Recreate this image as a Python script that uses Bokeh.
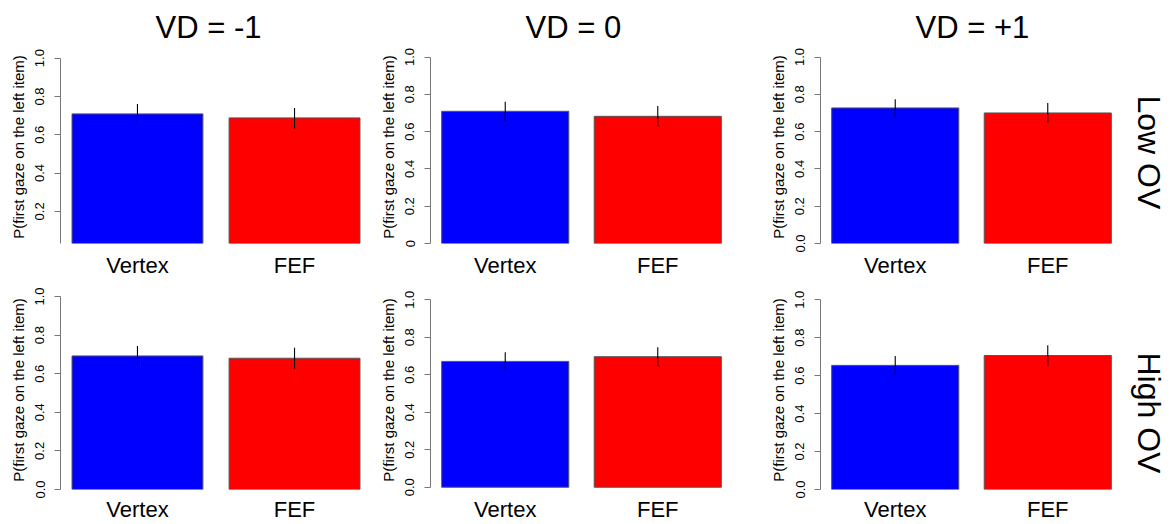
from bokeh.plotting import figure
from bokeh.models import FactorRange, Range1d, FixedTicker, PrintfTickFormatter, Title
from bokeh.layouts import gridplot
from bokeh.embed import file_html
from bokeh.resources import INLINE

# ---------------- data ----------------
groups = ["Vertex", "FEF"]
colors = ["#0000ff", "#ff0000"]
vd_titles = ["VD = -1", "VD = 0", "VD = +1"]
ov_labels = ["Low OV", "High OV"]
y_label = "P(first gaze on the left item)"
y_ticks = [0.0, 0.2, 0.4, 0.6, 0.8, 1.0]

# Low OV row (VD = -1, 0, +1): means and error-bar limits
low_mean = [[0.709, 0.688], [0.709, 0.682], [0.727, 0.700]]
low_lo = [[0.663, 0.632], [0.656, 0.627], [0.677, 0.647]]
low_hi = [[0.761, 0.740], [0.760, 0.737], [0.774, 0.753]]

# High OV row
high_mean = [[0.692, 0.680], [0.671, 0.696], [0.654, 0.706]]
high_lo = [[0.642, 0.625], [0.622, 0.644], [0.606, 0.650]]
high_hi = [[0.743, 0.734], [0.720, 0.747], [0.704, 0.760]]

FONT = "Liberation Sans"

# layout geometry (pixels)
col_width = [376, 390, 406]
col_border_left = [60, 52, 52]
col_border_right = [5, 34, 50]
row_height = [280, 244]
row_border_top = [50, 10]
row_border_bottom = [35, 33]
y_ranges = [
    [(0.032, 1.040), (0.0, 1.035), (0.0, 1.035)],
    [(0.0, 1.031), (-0.012, 1.049), (0.0, 1.0485)],
]
ov_offsets = [45, 62]


def make_panel(r, c, means, los, his):
    p = figure(
        width=col_width[c], height=row_height[r],
        x_range=FactorRange(factors=groups, factor_padding=0.2,
                            range_padding=0.088, range_padding_units="absolute"),
        y_range=Range1d(*y_ranges[r][c]),
        output_backend="svg", toolbar_location=None, tools="",
        min_border_left=col_border_left[c], min_border_right=col_border_right[c],
        min_border_top=row_border_top[r], min_border_bottom=row_border_bottom[r],
    )
    p.outline_line_color = None
    p.grid.visible = False
    p.background_fill_color = "white"
    p.border_fill_color = "white"

    p.vbar(x=groups, top=means, bottom=0, width=1.0, fill_color=colors,
           line_color="#555555", line_width=1)
    p.segment(x0=groups, y0=los, x1=groups, y1=his, line_color="black", line_width=1.1)

    ya = p.yaxis[0]
    ya.ticker = FixedTicker(ticks=y_ticks)
    ya.formatter = PrintfTickFormatter(format="%.1f")
    if r == 0 and c == 1:
        ya.major_label_overrides = {0: "0"}
    ya.bounds = (0, 1)
    ya.axis_label = y_label
    ya.axis_label_text_font = FONT
    ya.axis_label_text_font_size = "15px"
    ya.axis_label_text_font_style = "normal"
    ya.axis_label_text_color = "black"
    ya.axis_label_standoff = 6
    ya.major_label_orientation = "vertical"
    ya.major_label_text_font = FONT
    ya.major_label_text_font_size = "13px"
    ya.major_label_text_color = "black"
    ya.major_label_standoff = 10
    ya.major_tick_out = 6
    ya.major_tick_in = 0
    ya.minor_tick_line_color = None
    ya.axis_line_color = "#777777"
    ya.major_tick_line_color = "#777777"

    xa = p.xaxis[0]
    xa.axis_line_color = None
    xa.major_tick_line_color = None
    xa.minor_tick_line_color = None
    xa.major_tick_out = 0
    xa.major_tick_in = 0
    xa.axis_label = None
    xa.major_label_text_font = FONT
    xa.major_label_text_font_size = "22px"
    xa.major_label_text_color = "black"
    xa.major_label_standoff = 9 if r == 0 else 7

    if r == 0:
        p.title.text = vd_titles[c]
        p.title.text_font = FONT
        p.title.text_font_size = "31px"
        p.title.text_font_style = "normal"
        p.title.text_color = "black"
        p.title.align = "left"
        p.title.offset = 95
        p.title.standoff = 11
    if c == 2:
        p.add_layout(Title(text=ov_labels[r], align="left", offset=ov_offsets[r],
                           vertical_align="top",
                           text_font=FONT, text_font_size="32px",
                           text_font_style="normal", text_color="black",
                           standoff=12), "right")
    return p


panels = []
for r, (M, L, H) in enumerate([(low_mean, low_lo, low_hi), (high_mean, high_lo, high_hi)]):
    row = []
    for c in range(3):
        row.append(make_panel(r, c, M[c], L[c], H[c]))
    panels.append(row)

layout = gridplot(panels, toolbar_location=None)

open("out.html", "w").write(file_html(layout, INLINE))
